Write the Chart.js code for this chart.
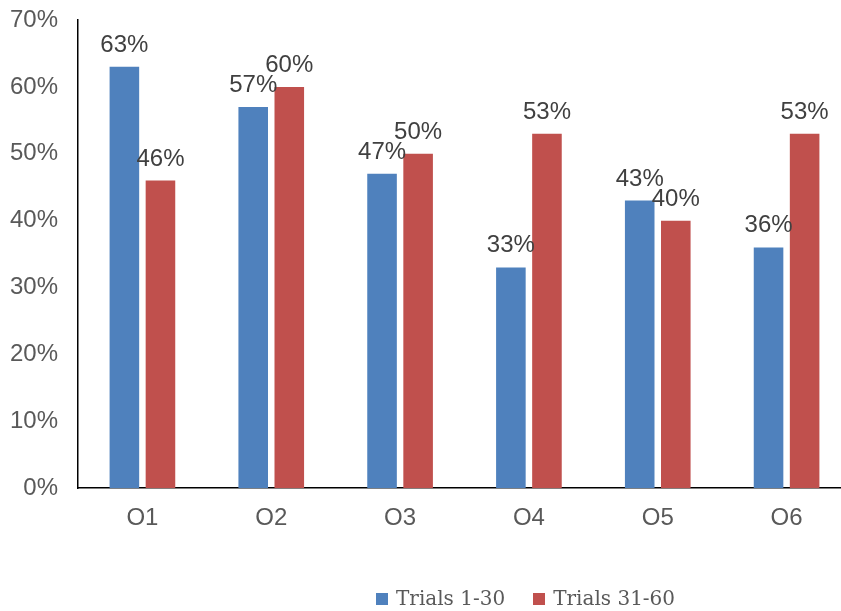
<!DOCTYPE html>
<html>
<head>
<meta charset="utf-8">
<script src="https://cdn.jsdelivr.net/npm/chart.js@4/dist/chart.umd.min.js"></script>
<style>
  html, body { margin: 0; padding: 0; background: #fff; overflow: hidden; }
  #wrap { position: relative; width: 852px; height: 611px; }
  #legend { position: absolute; left: 376px; top: 586px; font: 20px "DejaVu Serif", serif; color: #595959; white-space: nowrap; }
  #legend span.box { display: inline-block; width: 12px; height: 12px; margin-right: 8px; vertical-align: 0px; }
  #legend span.item { margin-right: 28px; }
</style>
</head>
<body>
<div id="wrap">
  <canvas id="myChart" width="852" height="611"></canvas>
  <div id="legend"></div>
</div>
<script>
var categories = ['O1', 'O2', 'O3', 'O4', 'O5', 'O6'];
var trials1to30 = [63, 57, 47, 33, 43, 36];
var trials31to60 = [46, 60, 50, 53, 40, 53];
var seriesNames = ['Trials 1-30', 'Trials 31-60'];
var seriesColors = ['#4F81BD', '#C0504D'];
var yTicks = [0, 10, 20, 30, 40, 50, 60, 70];

// simple value labels above bars
var barLabels = {
    id: 'barLabels',
    afterDatasetsDraw: function (chart) {
        var ctx = chart.ctx;
        ctx.save();
        ctx.font = '24px "Liberation Sans", Arial, sans-serif';
        ctx.fillStyle = '#404040';
        ctx.textAlign = 'center';
        ctx.textBaseline = 'alphabetic';
        chart.data.datasets.forEach(function (ds, i) {
            chart.getDatasetMeta(i).data.forEach(function (bar, j) {
                ctx.fillText(ds.data[j] + '%', bar.x, bar.y - 15);
            });
        });
        ctx.restore();
    }
};

document.addEventListener('DOMContentLoaded', function () {
    var ctx = document.getElementById('myChart').getContext('2d');
    var myChart = new Chart(ctx, {
        type: 'bar',
        data: {
            labels: categories,
            datasets: [{
                label: seriesNames[0],
                data: trials1to30,
                backgroundColor: seriesColors[0],
                categoryPercentage: 0.56,
                barPercentage: 0.82
            }, {
                label: seriesNames[1],
                data: trials31to60,
                backgroundColor: seriesColors[1],
                categoryPercentage: 0.56,
                barPercentage: 0.82
            }]
        },
        options: {
            responsive: false,
            animation: false,
            layout: {
                padding: { top: 20, left: 0, right: 1, bottom: 62 }
            },
            plugins: {
                legend: { display: false },
                tooltip: { enabled: false }
            },
            scales: {
                x: {
                    grid: { display: false, drawTicks: false },
                    border: { display: true, color: '#000', width: 1.5 },
                    ticks: {
                        padding: 16,
                        color: '#595959',
                        font: { size: 24, family: '"Liberation Sans", Arial, sans-serif' }
                    }
                },
                y: {
                    min: 0,
                    max: 70,
                    afterBuildTicks: function (axis) {
                        axis.ticks = yTicks.map(function (v) { return { value: v }; });
                    },
                    afterFit: function (axis) {
                        axis.width = 78;
                        axis.paddingTop = 0;
                        axis.paddingBottom = 0;
                    },
                    grid: { display: false, drawTicks: false },
                    border: { display: true, color: '#000', width: 1.5 },
                    ticks: {
                        padding: 20,
                        color: '#595959',
                        font: { size: 24, family: '"Liberation Sans", Arial, sans-serif' },
                        callback: function (v) { return v + '%'; }
                    }
                }
            }
        },
        plugins: [barLabels]
    });

    var legend = document.getElementById('legend');
    seriesNames.forEach(function (name, i) {
        var item = document.createElement('span');
        item.className = 'item';
        var box = document.createElement('span');
        box.className = 'box';
        box.style.background = seriesColors[i];
        item.appendChild(box);
        item.appendChild(document.createTextNode(name));
        legend.appendChild(item);
    });
});
</script>
</body>
</html>
